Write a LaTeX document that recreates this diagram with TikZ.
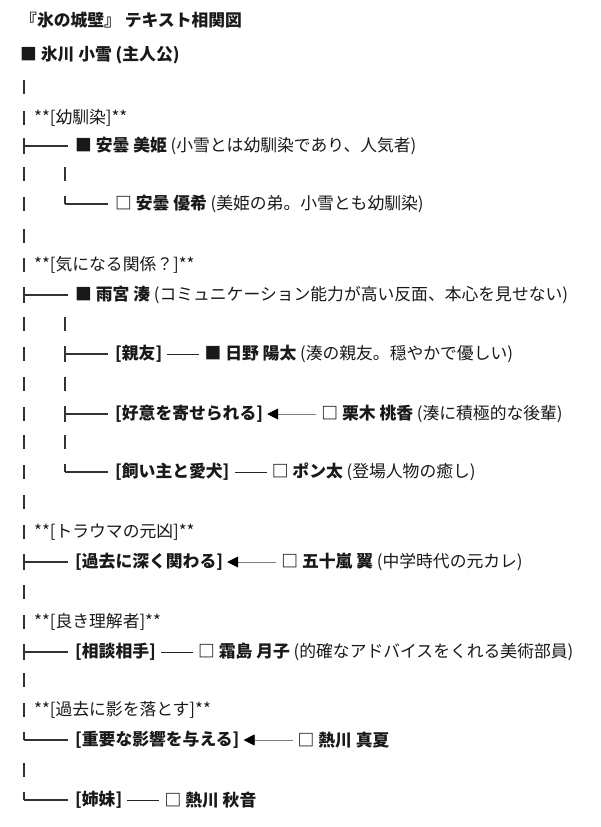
\documentclass[tikz,border=0pt]{standalone}
\usepackage{fontspec}
\setmainfont{Noto Sans CJK JP}
\usetikzlibrary{arrows.meta,positioning}
\begin{document}
\begin{tikzpicture}[x=1pt,y=-1pt,
  txt/.style={anchor=west,inner sep=0pt,font=\fontsize{16.8}{18}\selectfont,text=black!90},
  lbl/.style={txt,font=\fontsize{16.8}{18}\selectfont\bfseries},
  tree/.style={line width=1.4pt,black!80},
  link/.style={line width=0.9pt,black!85,shorten <=5pt,shorten >=5pt},
  arr/.style={line width=0.5pt,black!50,shorten <=5pt,shorten >=4pt,-{Triangle[length=11pt,width=11pt,black]}}]
\useasboundingbox (0,0) rectangle (600,827);
% title and root
\node[lbl] (title) at (20,20) {『氷の城壁』 テキスト相関図};
\node[lbl] (root) at (20,55) {■ 氷川 小雪 (主人公)};
% main trunk bars
\foreach \y in {87,118,174,204,236,265,324,354,384,414,442,472,502,532,592,622,680,710,770}
  \draw[tree] (24,\y-7) -- (24,\y+7);
\foreach \y in {146,295,562,652}
  {\draw[tree] (24,\y-8) -- (24,\y+8); \draw[tree] (24,\y) -- (68,\y);}
\foreach \y in {740,800}
  {\draw[tree] (24,\y-8) -- (24,\y); \draw[tree] (24,\y) -- (68,\y);}
% second level bars
\foreach \y in {174,324,384,442}
  \draw[tree] (65,\y-7) -- (65,\y+7);
\foreach \y in {354,414}
  {\draw[tree] (65,\y-8) -- (65,\y+8); \draw[tree] (65,\y) -- (108,\y);}
\foreach \y in {204,472}
  {\draw[tree] (65,\y-8) -- (65,\y); \draw[tree] (65,\y) -- (108,\y);}
% categories
\node[txt] (c1) at (34,118) {**[幼馴染]**};
\node[txt] (c2) at (34,265) {**[気になる関係？]**};
\node[txt] (c3) at (34,532) {**[トラウマの元凶]**};
\node[txt] (c4) at (34,622) {**[良き理解者]**};
\node[txt] (c5) at (34,710) {**[過去に影を落とす]**};
% entries
\node[txt] (mihime) at (75,146) {\bfseries ■ 安曇 美姫\mdseries{} (小雪とは幼馴染であり、人気者)};
\node[txt] (yuki) at (115,204) {\bfseries □ 安曇 優希\mdseries{} (美姫の弟。小雪とも幼馴染)};
\node[txt] (minato) at (75,295) {\bfseries ■ 雨宮 湊\mdseries{} (コミュニケーション能力が高い反面、本心を見せない)};
\node[lbl] (l1) at (115,354) {[親友]};
\node[txt,right=42pt of l1] (hinata) {\bfseries ■ 日野 陽太\mdseries{} (湊の親友。穏やかで優しい)};
\draw[link] (l1) -- (hinata);
\node[lbl] (l2) at (115,414) {[好意を寄せられる]};
\node[txt,right=58pt of l2] (momoka) {\bfseries □ 栗木 桃香\mdseries{} (湊に積極的な後輩)};
\draw[arr] (momoka) -- (l2);
\node[lbl] (l3) at (115,472) {[飼い主と愛犬]};
\node[txt,right=42pt of l3] (ponta) {\bfseries □ ポン太\mdseries{} (登場人物の癒し)};
\draw[link] (l3) -- (ponta);
\node[lbl] (l4) at (75,562) {[過去に深く関わる]};
\node[txt,right=58pt of l4] (tsubasa) {\bfseries □ 五十嵐 翼\mdseries{} (中学時代の元カレ)};
\draw[arr] (tsubasa) -- (l4);
\node[lbl] (l5) at (75,652) {[相談相手]};
\node[txt,right=42pt of l5] (tsukiko) {\bfseries □ 霜島 月子\mdseries{} (的確なアドバイスをくれる美術部員)};
\draw[link] (l5) -- (tsukiko);
\node[lbl] (l6) at (75,740) {[重要な影響を与える]};
\node[txt,right=58pt of l6] (manatsu) {\bfseries □ 熱川 真夏};
\draw[arr] (manatsu) -- (l6);
\node[lbl] (l7) at (75,800) {[姉妹]};
\node[txt,right=42pt of l7] (akine) {\bfseries □ 熱川 秋音};
\draw[link] (l7) -- (akine);
\end{tikzpicture}
\end{document}
